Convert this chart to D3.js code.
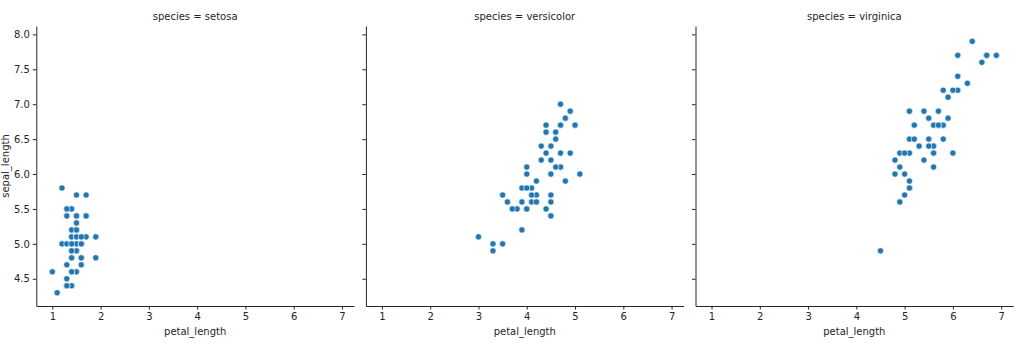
<!DOCTYPE html>
<html>
<head>
<meta charset="utf-8">
<script src="https://cdn.jsdelivr.net/npm/d3@7"></script>
<style>
  body { margin: 0; background: #fff; }
  svg text { font-family: "DejaVu Sans", sans-serif; fill: #262626; }
  .axis path, .axis line { stroke: #262626; }
</style>
</head>
<body>
<div id="chart"></div>
<script>
var species = ['setosa', 'versicolor', 'virginica'];

var setosaPetal = [1.4,1.4,1.3,1.5,1.4,1.7,1.4,1.5,1.4,1.5,1.5,1.6,1.4,1.1,1.2,1.5,1.3,1.4,1.7,1.5,
                   1.7,1.5,1.0,1.7,1.9,1.6,1.6,1.5,1.4,1.6,1.6,1.5,1.5,1.4,1.5,1.2,1.3,1.4,1.3,1.5,
                   1.3,1.3,1.3,1.6,1.9,1.4,1.6,1.4,1.5,1.4];
var setosaSepal = [5.1,4.9,4.7,4.6,5.0,5.4,4.6,5.0,4.4,4.9,5.4,4.8,4.8,4.3,5.8,5.7,5.4,5.1,5.7,5.1,
                   5.4,5.1,4.6,5.1,4.8,5.0,5.0,5.2,5.2,4.7,4.8,5.4,5.2,5.5,4.9,5.0,5.5,4.9,4.4,5.1,
                   5.0,4.5,4.4,5.0,5.1,4.8,5.1,4.6,5.3,5.0];

var versicolorPetal = [4.7,4.5,4.9,4.0,4.6,4.5,4.7,3.3,4.6,3.9,3.5,4.2,4.0,4.7,3.6,4.4,4.5,4.1,4.5,3.9,
                       4.8,4.0,4.9,4.7,4.3,4.4,4.8,5.0,4.5,3.5,3.8,3.7,3.9,5.1,4.5,4.5,4.7,4.4,4.1,4.0,
                       4.4,4.6,4.0,3.3,4.2,4.2,4.2,4.3,3.0,4.1];
var versicolorSepal = [7.0,6.4,6.9,5.5,6.5,5.7,6.3,4.9,6.6,5.2,5.0,5.9,6.0,6.1,5.6,6.7,5.6,5.8,6.2,5.6,
                       5.9,6.1,6.3,6.1,6.4,6.6,6.8,6.7,6.0,5.7,5.5,5.5,5.8,6.0,5.4,6.0,6.7,6.3,5.6,5.5,
                       5.5,6.1,5.8,5.0,5.6,5.7,5.7,6.2,5.1,5.7];

var virginicaPetal = [6.0,5.1,5.9,5.6,5.8,6.6,4.5,6.3,5.8,6.1,5.1,5.3,5.5,5.0,5.1,5.3,5.5,6.7,6.9,5.0,
                      5.7,4.9,6.7,4.9,5.7,6.0,4.8,4.9,5.6,5.8,6.1,6.4,5.6,5.1,5.6,6.1,5.6,5.5,4.8,5.4,
                      5.6,5.1,5.1,5.9,5.7,5.2,5.0,5.2,5.4,5.1];
var virginicaSepal = [6.3,5.8,7.1,6.3,6.5,7.6,4.9,7.3,6.7,7.2,6.5,6.4,6.8,5.7,5.8,6.4,6.5,7.7,7.7,6.0,
                      6.9,5.6,7.7,6.3,6.7,7.2,6.2,6.1,6.4,7.2,7.4,7.9,6.4,6.3,6.1,7.7,6.3,6.4,6.0,6.9,
                      6.7,6.9,5.8,6.8,6.7,6.7,6.3,6.5,6.2,5.9];

var xTicks = [1, 2, 3, 4, 5, 6, 7];
var yTicks = [4.5, 5.0, 5.5, 6.0, 6.5, 7.0, 7.5, 8.0];

var petalBySpecies = [setosaPetal, versicolorPetal, virginicaPetal];
var sepalBySpecies = [setosaSepal, versicolorSepal, virginicaSepal];

var width = 1024,
    height = 348,
    panelLeft = 36.3,
    panelWidth = 317.7,
    panelStep = 329.6,
    plotTop = 26,
    plotBottom = 306;

var svg = d3.select('#chart')
    .append('svg')
    .attr('width', width)
    .attr('height', height);

var yScale = d3.scaleLinear().domain([4.11, 8.12]).range([plotBottom, plotTop]);

species.forEach(function (name, k) {
    var x0 = panelLeft + k * panelStep;
    var xScale = d3.scaleLinear().domain([0.668, 7.249]).range([x0, x0 + panelWidth]);

    // x axis
    var gx = svg.append('g')
        .attr('class', 'axis')
        .attr('transform', 'translate(0,' + plotBottom + ')')
        .call(d3.axisBottom(xScale).tickValues(xTicks).tickSize(3.5).tickPadding(3).tickSizeOuter(0).tickFormat(d3.format('d')));
    gx.selectAll('text').style('font-size', '10px').style('font-family', 'DejaVu Sans');

    // y axis
    var gy = svg.append('g')
        .attr('class', 'axis')
        .attr('transform', 'translate(' + x0 + ',0)')
        .call(d3.axisLeft(yScale).tickValues(yTicks).tickSize(3.5).tickPadding(3).tickSizeOuter(0)
            .tickFormat(k === 0 ? d3.format('.1f') : ''));
    gy.selectAll('text').style('font-size', '10px').style('font-family', 'DejaVu Sans');

    // panel title
    svg.append('text')
        .attr('x', x0 + panelWidth / 2)
        .attr('y', 20)
        .attr('text-anchor', 'middle')
        .style('font-size', '10px')
        .text('species = ' + name);

    // x label
    svg.append('text')
        .attr('x', x0 + panelWidth / 2)
        .attr('y', 335)
        .attr('text-anchor', 'middle')
        .style('font-size', '10px')
        .text('petal_length');

    // points
    svg.append('g')
        .selectAll('circle')
        .data(petalBySpecies[k])
        .enter()
        .append('circle')
        .attr('cx', function (d) { return xScale(d); })
        .attr('cy', function (d, i) { return yScale(sepalBySpecies[k][i]); })
        .attr('r', 3.1)
        .style('fill', '#1f77b4')
        .style('stroke', '#fff')
        .style('stroke-width', 0.6);
});

// y label
svg.append('text')
    .attr('transform', 'translate(9,' + (plotTop + plotBottom) / 2 + ') rotate(-90)')
    .attr('text-anchor', 'middle')
    .style('font-size', '10px')
    .text('sepal_length');
</script>
</body>
</html>
